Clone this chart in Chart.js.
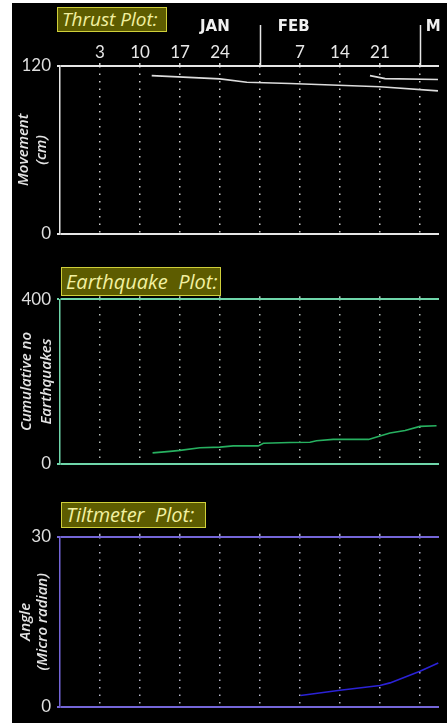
<!DOCTYPE html>
<html><head><meta charset="utf-8">
<script src="https://cdn.jsdelivr.net/npm/chart.js@4"></script>
<style>
html,body{margin:0;padding:0;background:#fff;width:447px;height:723px;overflow:hidden}
#bg{position:absolute;left:12px;top:3px;width:435px;height:720px;background:#000}
canvas{position:absolute;left:0}
.ttl{position:absolute;box-sizing:border-box;background:#5d5c00;border:1.5px solid #cfcf3a;color:#f2f0a0;font-family:"Open Sans",sans-serif;font-style:italic;font-size:20px;line-height:1;display:flex;align-items:center;padding-left:4px;white-space:pre;overflow:hidden}
</style></head><body>
<div id="bg"></div>
<canvas id="c1" width="447" height="250" style="top:0"></canvas>
<canvas id="c2" width="447" height="220" style="top:260px"></canvas>
<canvas id="c3" width="447" height="233" style="top:490px"></canvas>
<div class="ttl" style="left:57px;top:7px;width:110px;height:25px;font-size:19px">Thrust Plot:</div>
<div class="ttl" style="left:61px;top:267px;width:160px;height:29px">Earthquake  Plot:</div>
<div class="ttl" style="left:61px;top:502px;width:145px;height:26px">Tiltmeter  Plot:</div>
<script>
// x values are day numbers counted from 1 January (1 Feb = 32)
const gridDays = [3, 10, 17, 24, 31, 38, 45, 52, 59];
const gridLabels = ['3', '10', '17', '24', '', '7', '14', '21', ''];
const monthPos = [23.1, 36.9, 61.3];
const monthLabels = ['JAN', 'FEB', 'M'];
const monthStarts = [31, 59];
const xMin = -4, xMax = 62.33;

const thrustADays = [12.05, 24.0, 28.7, 36.25, 52.0, 62.15];
const thrustAValues = [113.1, 110.8, 108.4, 107.5, 105.2, 102.2];
const thrustBDays = [50.25, 52.9, 62.15];
const thrustBValues = [113.1, 111.0, 110.3];

const quakeDays = [12.2, 15.25, 17.0, 20.5, 24.0, 26.3, 30.7, 31.6, 36.25, 39.75, 40.9, 43.8, 50.0, 52.0, 53.75, 56.4, 59.0, 61.9];
const quakeValues = [26.6, 30.3, 32.7, 39.0, 40.6, 43.6, 43.6, 49.9, 51.8, 52.3, 56.0, 59.3, 59.3, 67.7, 74.7, 81.0, 91.0, 92.6];

const tiltDays = [38.1, 45.0, 52.0, 53.75, 59.0, 62.2];
const tiltValues = [1.99, 2.92, 3.75, 4.22, 6.26, 7.74];

function pts(d, v) { return d.map((x, i) => ({x: x, y: v[i]})); }

const monthSeparators = {
  id: 'monthSeparators',
  afterDraw(chart) {
    if (!chart.scales.xm) return;
    const ctx = chart.ctx, sx = chart.scales.x, top = chart.chartArea.top;
    ctx.save();
    ctx.strokeStyle = '#e6e6e6';
    ctx.lineWidth = 1.5;
    monthStarts.forEach(d => {
      const px = Math.round(sx.getPixelForValue(d)) + 0.5;
      ctx.beginPath(); ctx.moveTo(px, top - 41); ctx.lineTo(px, top); ctx.stroke();
    });
    ctx.restore();
  }
};

function panel(id, o) {
  const scales = {
    x: {
      type: 'linear', position: 'top', min: xMin, max: xMax,
      afterBuildTicks: s => { s.ticks = gridDays.map(v => ({value: v})); },
      ticks: {display: o.showDays, autoSkip: false, maxRotation: 0, padding: 0, color: '#e8e8e8',
        font: {family: 'Lato', size: 17}, callback: (v, i) => gridLabels[i]},
      grid: {color: o.dotColor, lineWidth: 1.5, tickLength: 3},
      border: {display: false, dash: [1.5, 6]},
      afterFit: s => { s.height = o.xh; }
    },
    y: {
      min: 0, max: o.yMax,
      afterBuildTicks: s => { s.ticks = [{value: 0}, {value: o.yMax}]; },
      ticks: {color: '#dedede', font: {family: 'Lato', size: 17}, padding: 6},
      grid: {color: o.axisColor, lineWidth: 2, tickLength: 3},
      border: {display: true, color: o.axisColor, width: 1.5},
      title: {display: true, text: o.yTitle, color: '#e4e4e4',
        font: {family: 'Open Sans', style: 'italic', weight: '600', size: 15, lineHeight: o.lh},
        padding: {top: o.tpad, bottom: 0}},
      afterFit: s => { s.width = 48; }
    }
  };
  if (o.showDays) {
    scales.xm = {
      type: 'linear', position: 'top', weight: 1, min: xMin, max: xMax,
      afterBuildTicks: s => { s.ticks = monthPos.map(v => ({value: v})); },
      ticks: {autoSkip: false, maxRotation: 0, padding: 6, color: '#f0f0f0',
        font: {family: 'DejaVu Sans', weight: 'bold', size: 15}, callback: (v, i) => monthLabels[i]},
      grid: {display: false, drawTicks: false},
      border: {display: false},
      afterFit: s => { s.height = 42; }
    };
  }
  return new Chart(document.getElementById(id), {
    type: 'line',
    data: {datasets: o.datasets.map(d => ({data: d, borderColor: o.lineColor, borderWidth: 1.6,
      pointRadius: 0, fill: false, tension: 0}))},
    options: {
      responsive: false, animation: false, devicePixelRatio: 1,
      layout: {padding: {left: 12, right: 8, top: o.padTop, bottom: o.padBottom}},
      plugins: {legend: {display: false}, tooltip: {enabled: false}},
      scales: scales
    },
    plugins: [monthSeparators]
  });
}

panel('c1', {showDays: true, xh: 24, padTop: 0, padBottom: 11, yMax: 120,
  yTitle: ['Movement', '(cm)'], lh: '18px', tpad: 3,
  axisColor: '#e6e6e6', dotColor: 'rgba(235,235,235,0.85)', lineColor: '#dcdcdc',
  datasets: [pts(thrustADays, thrustAValues), pts(thrustBDays, thrustBValues)]});

panel('c2', {showDays: false, xh: 4, padTop: 35.3, padBottom: 9.3, yMax: 400,
  yTitle: ['Cumulative no', 'Earthquakes'], lh: '20px', tpad: 5,
  axisColor: '#6fd6aa', dotColor: 'rgba(225,235,230,0.8)', lineColor: '#27b060',
  datasets: [pts(quakeDays, quakeValues)]});

panel('c3', {showDays: false, xh: 4, padTop: 42.7, padBottom: 15.7, yMax: 30,
  yTitle: ['Angle', '(Micro radian)'], lh: '17px', tpad: 5,
  axisColor: '#7466d8', dotColor: 'rgba(225,225,245,0.8)', lineColor: '#2b22d6',
  datasets: [pts(tiltDays, tiltValues)]});
</script>
</body></html>
